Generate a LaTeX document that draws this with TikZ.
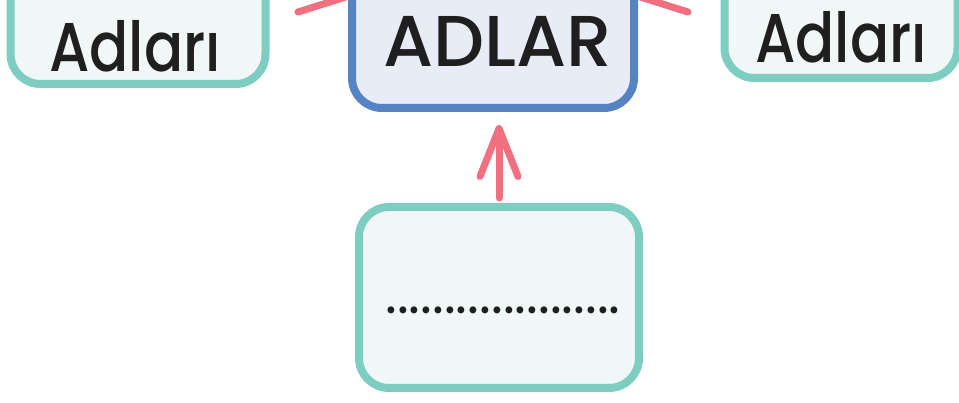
\documentclass[tikz,border=0pt]{standalone}
\usepackage{fontspec}
\setmainfont{Poppins}
\newfontfamily\headfont{Poppins Medium}
\newfontfamily\wordfont{Poppins Medium}[FakeStretch=0.84]
\usetikzlibrary{arrows.meta}
\definecolor{tealline}{HTML}{7DCDC0}
\definecolor{tealfill}{HTML}{F1F7F6}
\definecolor{blueline}{HTML}{5683C4}
\definecolor{bluefill}{HTML}{E8ECF6}
\definecolor{pinkline}{HTML}{F0707F}
\begin{document}
\begin{tikzpicture}[x=1pt, y=-1pt,
    every node/.append style={inner sep=0pt, outer sep=0pt},
    box/.style={draw=tealline, fill=tealfill, line width=8pt, rounded corners=30pt},
    pointer/.style={draw=pinkline, line width=7pt, line cap=round}]
  \tikzstyle{word} = [font=\fontsize{69}{80}\wordfont, color=black!88, anchor=base]
  \clip (0,0) rectangle (959,403);
  \node (leftbox) [box, minimum width=255pt, minimum height=200pt, anchor=south] at (138,84) {};
  \node (adlar) [box, draw=blueline, fill=bluefill, minimum width=282pt, minimum height=200pt, anchor=south] at (493,108) {};
  \node (rightbox) [box, minimum width=233pt, minimum height=200pt, anchor=south] at (841,78) {};
  \node (slot) [box, minimum width=280pt, minimum height=181pt] at (499,297.5) {};
  \node [word] (left_word) at (135,72) {Adları};
  \node [word, font=\fontsize{72}{80}\headfont] (adlar_word) at (497.5,67) {ADLAR};
  \node [word] (right_word) at (841,63) {Adları};
  \node [word, font=\fontsize{56}{60}\selectfont] (blank) at (503,314) {....................};
  \coordinate (left_end) at (298,12);
  \coordinate (right_end) at (688,12);
  \draw[pointer] (left_end) -- (352,-5);
  \draw[pointer] (right_end) -- (634,-5);
  \draw[pointer, -{Straight Barb[length=48pt, width=38pt, round]}] ([yshift=9pt]slot.north) -- ([yshift=-17pt]slot.north |- adlar.south);
\end{tikzpicture}
\end{document}
